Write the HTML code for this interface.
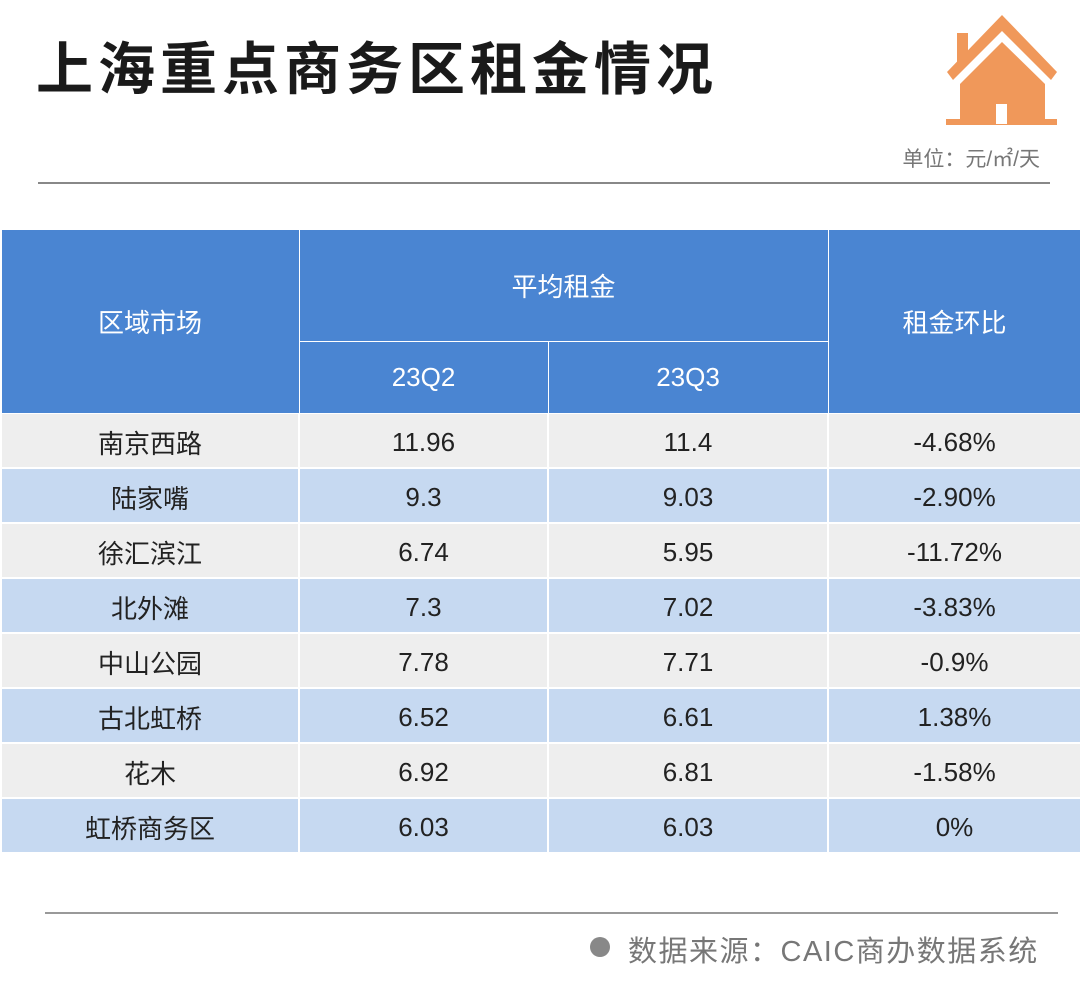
<!DOCTYPE html>
<html><head><meta charset="utf-8"><style>
body{margin:0;width:1080px;height:987px;background:#fff;position:relative;overflow:hidden;font-family:"Liberation Sans","Noto Sans CJK SC",sans-serif;}
.t{position:absolute;}
table{position:absolute;left:0;top:230px;width:1080px;border-collapse:collapse;table-layout:fixed;}
td{text-align:center;font-size:26px;color:#222;border-left:2px solid #fff;border-right:2px solid #fff;padding:0;padding-top:3px;}
th{background:#4a85d2;color:#fff;font-weight:normal;font-size:26px;border:1px solid #fff;border-top:none;}
tr.a td{background:#eeeeee;height:50px;border-bottom:2px solid #fff;}
tr.b td{background:#c6d9f1;height:50px;border-bottom:2px solid #fff;}
</style></head><body>
<div class="t" style="left:36px;top:24px;font-size:57px;font-weight:bold;color:#1a1a1a;letter-spacing:5px;">上海重点商务区租金情况</div>
<svg class="t" style="left:940px;top:10px" width="125" height="120" viewBox="940 10 125 120">
<polygon points="1002,15 1057,72 1051,80 1002,31 953,80 947,72" fill="#f0985a"/>
<rect x="957" y="33" width="11" height="30" fill="#f0985a"/>
<polygon points="1002,42 1045,84 1045,122 960,122 960,84" fill="#f0985a"/>
<rect x="946" y="119" width="111" height="6" fill="#f0985a"/>
<rect x="996" y="104" width="11" height="20" fill="#fff"/>
</svg>
<div class="t" style="right:40px;top:143px;font-size:21px;color:#777;">单位：元/㎡/天</div>
<div class="t" style="left:38px;top:182px;width:1012px;height:2px;background:#888;"></div>
<table>
<colgroup><col style="width:298px"><col style="width:249px"><col style="width:280px"><col style="width:253px"></colgroup>
<tr><th rowspan="2" style="height:180px">区域市场</th><th colspan="2" style="height:109px">平均租金</th><th rowspan="2">租金环比</th></tr>
<tr><th style="height:69px">23Q2</th><th>23Q3</th></tr>
<tr class="a"><td>南京西路</td><td>11.96</td><td>11.4</td><td>-4.68%</td></tr>
<tr class="b"><td>陆家嘴</td><td>9.3</td><td>9.03</td><td>-2.90%</td></tr>
<tr class="a"><td>徐汇滨江</td><td>6.74</td><td>5.95</td><td>-11.72%</td></tr>
<tr class="b"><td>北外滩</td><td>7.3</td><td>7.02</td><td>-3.83%</td></tr>
<tr class="a"><td>中山公园</td><td>7.78</td><td>7.71</td><td>-0.9%</td></tr>
<tr class="b"><td>古北虹桥</td><td>6.52</td><td>6.61</td><td>1.38%</td></tr>
<tr class="a"><td>花木</td><td>6.92</td><td>6.81</td><td>-1.58%</td></tr>
<tr class="b"><td>虹桥商务区</td><td>6.03</td><td>6.03</td><td>0%</td></tr>
</table>
<div class="t" style="left:45px;top:912px;width:1013px;height:2px;background:#999;"></div>
<div class="t" style="left:590px;top:937px;width:20px;height:20px;border-radius:50%;background:#888;"></div>
<div class="t" style="left:628px;top:928px;font-size:29px;color:#777;letter-spacing:1.5px;">数据来源：CAIC商办数据系统</div>
</body></html>
